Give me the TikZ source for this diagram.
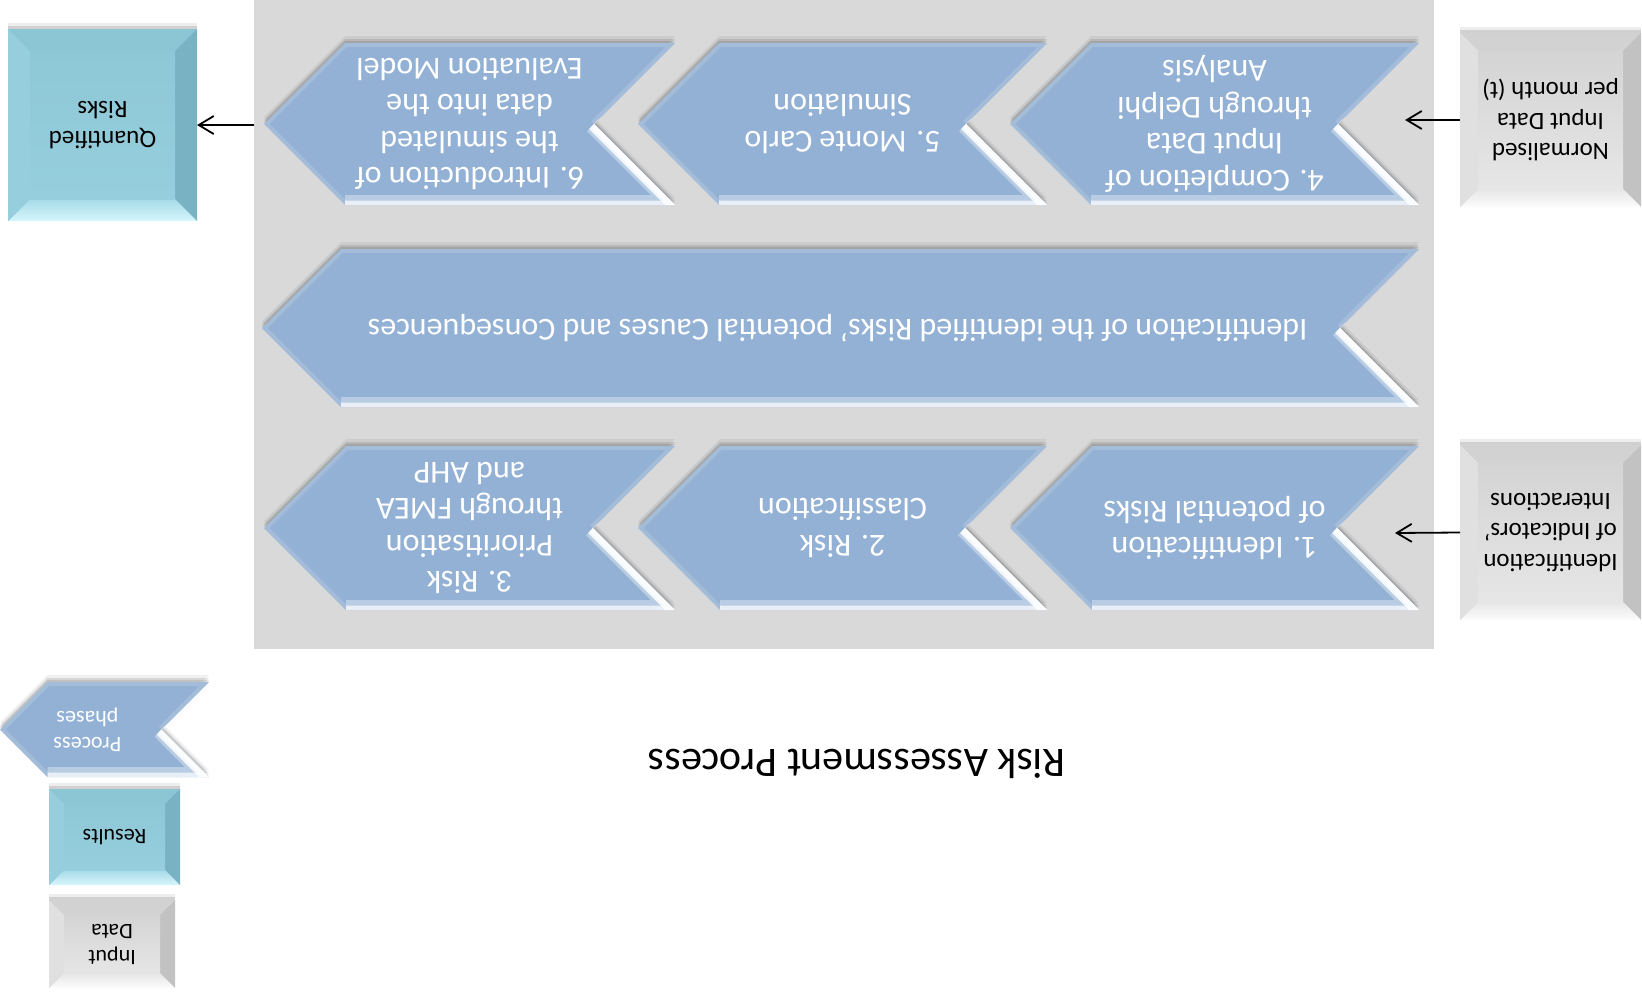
\documentclass[tikz,border=0pt]{standalone}
\usepackage{fontspec}
\setmainfont{Carlito}
\usetikzlibrary{arrows.meta}
\definecolor{chev}{RGB}{147,177,213}
\definecolor{panelgray}{RGB}{217,217,217}
\definecolor{gTop}{RGB}{210,210,210}
\definecolor{gRight}{RGB}{194,194,194}
\definecolor{gBotA}{RGB}{230,230,230}
\definecolor{gBotB}{RGB}{252,252,252}
\definecolor{gLeft}{RGB}{224,224,224}
\definecolor{gInA}{RGB}{212,212,212}
\definecolor{gInB}{RGB}{230,230,230}
\definecolor{cTop}{RGB}{140,198,213}
\definecolor{cRight}{RGB}{121,179,195}
\definecolor{cBotA}{RGB}{165,218,232}
\definecolor{cBotB}{RGB}{215,246,252}
\definecolor{cLeft}{RGB}{150,206,221}
\definecolor{cInA}{RGB}{142,199,214}
\definecolor{cInB}{RGB}{150,206,221}
\tikzset{
  chevtext/.style={rotate=180,align=center,text=white,inner sep=0pt},
  boxtext/.style={rotate=180,align=center,text=black,inner sep=0pt},
  bigfont/.style={font=\fontsize{32}{36.5}\selectfont},
  boxfont/.style={font=\fontsize{25}{30.5}\selectfont},
  legfont/.style={font=\fontsize{22}{26}\selectfont},
  conn/.style={line width=1.8pt,-{Straight Barb[length=15pt,width=18pt,line width=1.8pt]}},
  area/.style={inner sep=0pt,outer sep=0pt}
}
\newcommand{\chevfig}[8]{%
  \pgfmathsetmacro\chvD{(#5-#4)/2}%
  \pgfmathsetmacro\chvM{(#4+#5)/2}%
  \def\chpath{(#2,\chvM) -- ({#2+\chvD},#4) -- (#3,#4) -- ({#3-\chvD},\chvM) -- (#3,#5) -- ({#2+\chvD},#5) -- cycle}%
  \fill[black,opacity=0.06,yshift=7pt] \chpath;
  \fill[black,opacity=0.10,yshift=4pt] \chpath;
  \fill[black,opacity=0.10,yshift=2pt] \chpath;
  \fill[chev] \chpath;
  \begin{scope}
    \clip \chpath;
    \draw[white,opacity=0.14,line width=8pt,line join=round] ({#2+\chvD},#5) -- (#2,\chvM) -- ({#2+\chvD},#4) -- (#3,#4) -- ({#3-\chvD},\chvM);
    \draw[white,opacity=0.35,line width=20pt,line join=round] ({#2+\chvD},#5) -- (#3,#5) -- ({#3-\chvD},\chvM);
    \draw[white,opacity=0.7,line width=9pt,line join=round] ({#2+\chvD},#5) -- (#3,#5) -- ({#3-\chvD},\chvM);
    \draw[white,opacity=0.85,line width=14pt,line cap=butt] (#3,#5) -- ({#3-\chvD},\chvM);
  \end{scope}
  \node[chevtext,#7] (#1) at ({(#2+#3)/2+#8},\chvM) {#6};
}
\newcommand{\bevbox}[9]{%
  \fill[black,opacity=0.07,yshift=6pt] (#2,#4) rectangle (#3,#5);
  \fill[black,opacity=0.12,yshift=3pt] (#2,#4) rectangle (#3,#5);
  \fill[#7InA] (#2,#4) rectangle (#3,#5);
  \fill[#7Top] (#2,#4) -- (#3,#4) -- ({#3-#6},{#4+#6}) -- ({#2+#6},{#4+#6}) -- cycle;
  \fill[#7Right] (#3,#4) -- (#3,#5) -- ({#3-#6},{#5-#6}) -- ({#3-#6},{#4+#6}) -- cycle;
  \shade[top color=#7BotA,bottom color=#7BotB] (#2,#5) -- (#3,#5) -- ({#3-#6},{#5-#6}) -- ({#2+#6},{#5-#6}) -- cycle;
  \fill[#7Left] (#2,#4) -- ({#2+#6},{#4+#6}) -- ({#2+#6},{#5-#6}) -- (#2,#5) -- cycle;
  \shade[top color=#7InA,bottom color=#7InB] ({#2+#6},{#4+#6}) rectangle ({#3-#6},{#5-#6});
  \node[area,minimum width={(#3-#2)*1pt},minimum height={(#5-#4)*1pt}] (#1) at ({(#2+#3)/2},{(#4+#5)/2}) {};
  \node[boxtext,#9] (#1-t) at (#1.center) {#8};
}
\begin{document}
\begin{tikzpicture}[x=1pt,y=-1pt]
\useasboundingbox (0,0) rectangle (1642,996);
\fill[white] (0,0) rectangle (1642,996);
% panel
\fill[panelgray] (254,0) rectangle (1434,649);
% chevrons
\chevfig{ch4}{1010}{1419}{43}{205}{4. Completion of\\Input Data\\through Delphi\\Analysis}{bigfont}{0}
\chevfig{ch5}{638}{1047}{43}{205}{5. Monte Carlo\\Simulation}{bigfont}{0}
\chevfig{ch6}{264}{675}{43}{205}{6. Introduction of\\the simulated\\data into the\\Evaluation Model}{bigfont}{0}
\chevfig{mid}{262}{1419}{249}{407}{Identification of the identified Risks’ potential Causes and Consequences}{bigfont}{-3}
\chevfig{ch1}{1010}{1419}{446}{610}{1. Identification\\of potential Risks}{bigfont}{0}
\chevfig{ch2}{638}{1047}{446}{610}{2. Risk\\Classification}{bigfont}{0}
\chevfig{ch3}{264}{675}{446}{610}{3. Risk\\Prioritisation\\through FMEA\\and AHP}{bigfont}{0}
% boxes
\bevbox{normin}{1460}{1641}{33}{207}{18}{g}{Normalised\\Input Data\\per month (t)}{boxfont}
\bevbox{indint}{1460}{1641}{445}{620}{18}{g}{Identification\\of Indicators’\\Interactions}{boxfont}
\bevbox{quant}{8}{197}{29}{221}{22}{c}{Quantified\\Risks}{boxfont}
% connectors
\coordinate (inA) at (1405,120);
\coordinate (inB) at (1395,533);
\coordinate (panelL) at (254,125);
\draw[conn] (normin.west) -- (inA);
\draw[conn] (indint.west) -- (inB);
\draw[conn] (panelL) -- (quant.east);
% title
\node[rotate=180,font=\fontsize{42}{48}\selectfont,inner sep=0pt] (title) at (857,764) {Risk Assessment Process};
% legend
\chevfig{legph}{0}{209}{682}{777}{Process\\phases}{legfont}{-17}
\bevbox{legres}{49}{180}{789}{885}{15}{c}{Results}{legfont}
\bevbox{leginp}{49}{175}{900}{988}{15}{g}{Input\\Data}{legfont}
\end{tikzpicture}
\end{document}
